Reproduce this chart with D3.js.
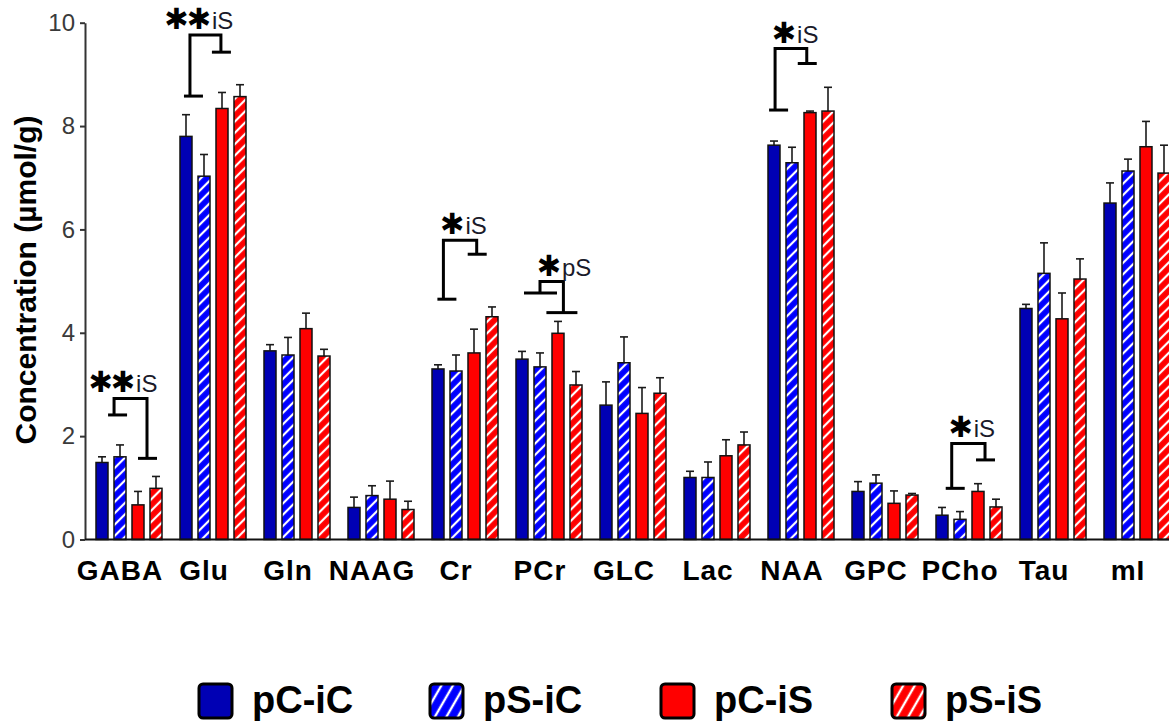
<!DOCTYPE html>
<html>
<head>
<meta charset="utf-8">
<script src="https://cdn.jsdelivr.net/npm/d3@7"></script>
<style>
  html, body { margin: 0; padding: 0; background: #fff; }
  svg { display: block; font-family: "Liberation Sans", Arial, sans-serif; }
</style>
</head>
<body>
<script>
// ---------- DATA ----------
const categories = ["GABA","Glu","Gln","NAAG","Cr","PCr","GLC","Lac","NAA","GPC","PCho","Tau","mI"];
const seriesNames = ["pC-iC","pS-iC","pC-iS","pS-iS"];
const yTicks = [0, 2, 4, 6, 8, 10];

const pCiC = [1.49, 7.80, 3.65, 0.62, 3.30, 3.49, 2.60, 1.20, 7.63, 0.93, 0.47, 4.47, 6.51];
const pSiC = [1.60, 7.03, 3.57, 0.85, 3.26, 3.34, 3.42, 1.20, 7.29, 1.09, 0.39, 5.15, 7.13];
const pCiS = [0.67, 8.34, 4.08, 0.78, 3.61, 3.99, 2.44, 1.62, 8.26, 0.70, 0.93, 4.27, 7.60];
const pSiS = [0.99, 8.57, 3.55, 0.58, 4.31, 2.99, 2.83, 1.83, 8.29, 0.86, 0.63, 5.04, 7.09];

const errPCiC = [0.11, 0.42, 0.12, 0.20, 0.08, 0.15, 0.45, 0.12, 0.08, 0.19, 0.15, 0.08, 0.39];
const errPSiC = [0.23, 0.42, 0.34, 0.19, 0.31, 0.27, 0.50, 0.30, 0.30, 0.16, 0.15, 0.59, 0.23];
const errPCiS = [0.26, 0.31, 0.30, 0.35, 0.46, 0.23, 0.50, 0.31, 0.03, 0.24, 0.15, 0.50, 0.49];
const errPSiS = [0.23, 0.23, 0.13, 0.16, 0.19, 0.26, 0.30, 0.25, 0.46, 0.03, 0.15, 0.39, 0.54];

// significance brackets: category, stars, effect label, legs (bar index units), low ends, top
const sigCategory = ["GABA", "Glu", "Cr", "PCr", "NAA", "PCho"];
const sigStars    = ["✱✱", "✱✱", "✱", "✱", "✱", "✱"];
const sigLabel    = ["iS", "iS", "iS", "pS", "iS", "iS"];
const sigLegLeft  = [0.67, 0.22, 0.30, 1.00, 0.06, 0.54];
const sigLegRight = [2.50, 1.94, 2.15, 2.30, 1.82, 2.39];
const sigLowLeft  = [2.41, 8.58, 4.65, 4.77, 8.31, 0.99];
const sigLowRight = [1.57, 9.43, 5.52, 4.39, 9.21, 1.54];
const sigTop      = [2.73, 9.76, 5.79, 4.99, 9.50, 1.86];

// ---------- BUILD ----------
const values = [pCiC, pSiC, pCiS, pSiS];
const errors = [errPCiC, errPSiC, errPCiS, errPSiS];
const fills = ["#0000b4", "url(#hatchBlue)", "#ff0000", "url(#hatchRed)"];
const legendFills = ["#0000b4", "url(#legHatchBlue)", "#ff0000", "url(#legHatchRed)"];

const W = 1169, H = 725;
const svg = d3.select("body").append("svg").attr("width", W).attr("height", H);
const defs = svg.append("defs");
function hatch(id, color, size, angle, sw) {
  const p = defs.append("pattern").attr("id", id)
    .attr("patternUnits", "userSpaceOnUse")
    .attr("width", size).attr("height", size)
    .attr("patternTransform", `rotate(${angle})`);
  p.append("rect").attr("width", size).attr("height", size).attr("fill", color);
  p.append("line").attr("x1", size / 2).attr("y1", -1).attr("x2", size / 2).attr("y2", size + 1)
    .attr("stroke", "#fff").attr("stroke-width", sw);
}
hatch("hatchBlue", "#0000ff", 8, 45, 2.2);
hatch("hatchRed", "#ff0000", 8, 45, 2.2);
hatch("legHatchBlue", "#0000ff", 10, 30, 2.4);
hatch("legHatchRed", "#ff0000", 10, 30, 2.4);

const axisX = 85;
const x0 = d3.scaleBand().domain(categories).range([axisX, axisX + 84 * categories.length]).padding(0);
const x1 = d3.scaleBand().domain(seriesNames).range([0, 66]).paddingInner(1 / 3).paddingOuter(0);
const groupOffset = 11;
const y = d3.scaleLinear().domain([0, 10]).range([539.5, 22.7]);

// bars
const barData = [];
categories.forEach((c, ci) => {
  seriesNames.forEach((s, si) => {
    barData.push({ c, s, si, v: values[si][ci], e: errors[si][ci] });
  });
});
const gBars = svg.append("g");
const gErr = gBars.append("g").attr("stroke", "#1a1a1a").attr("stroke-width", 1.6);
barData.forEach(d => {
  const cx = x0(d.c) + groupOffset + x1(d.s) + x1.bandwidth() / 2;
  gErr.append("line").attr("x1", cx).attr("x2", cx).attr("y1", y(d.v)).attr("y2", y(d.v + d.e));
  gErr.append("line").attr("x1", cx - 4).attr("x2", cx + 4).attr("y1", y(d.v + d.e)).attr("y2", y(d.v + d.e));
});
gBars.selectAll("rect.bar").data(barData).join("rect")
  .attr("class", "bar")
  .attr("x", d => x0(d.c) + groupOffset + x1(d.s))
  .attr("y", d => y(d.v))
  .attr("width", x1.bandwidth())
  .attr("height", d => y(0) - y(d.v))
  .attr("fill", d => fills[d.si])
  .attr("stroke", "#111")
  .attr("stroke-width", 1.5);

// y axis
const yAxis = svg.append("g").attr("transform", `translate(${axisX},0)`)
  .call(d3.axisLeft(y).tickValues(yTicks).tickSize(5).tickSizeOuter(0).tickPadding(5));
yAxis.select(".domain").attr("stroke", "#333").attr("stroke-width", 2);
yAxis.selectAll(".tick line").attr("stroke", "#333").attr("stroke-width", 2);
yAxis.selectAll(".tick text").attr("font-size", 24).attr("fill", "#3a3a3a")
  .attr("font-family", "'Liberation Sans', Arial, sans-serif");

// x baseline
svg.append("line").attr("x1", axisX).attr("x2", W).attr("y1", y(0)).attr("y2", y(0))
  .attr("stroke", "#111").attr("stroke-width", 2);

// x labels
svg.append("g").selectAll("text").data(categories).join("text")
  .attr("x", d => x0(d) + x0.bandwidth() / 2 - 7)
  .attr("y", 580)
  .attr("text-anchor", "middle")
  .attr("font-size", 28).attr("font-weight", "bold").attr("fill", "#000")
  .attr("letter-spacing", 1)
  .text(d => d);

// y title
svg.append("text")
  .attr("transform", "translate(36,280) rotate(-90)")
  .attr("text-anchor", "middle")
  .attr("font-size", 30).attr("font-weight", "bold").attr("fill", "#000")
  .text("Concentration (µmol/g)");

// significance brackets
const gSig = svg.append("g");
sigCategory.forEach((c, i) => {
  const base = x0(c) + groupOffset + x1.bandwidth() / 2;
  const step = x1.step();
  const xl = base + sigLegLeft[i] * step;
  const xr = base + sigLegRight[i] * step;
  const wide = sigLabel[i] === "pS";
  const path = d3.path();
  path.moveTo(xl, y(sigLowLeft[i]));
  path.lineTo(xl, y(sigTop[i]));
  path.lineTo(xr, y(sigTop[i]));
  path.lineTo(xr, y(sigLowRight[i]));
  gSig.append("path").attr("d", path.toString()).attr("fill", "none")
    .attr("stroke", "#000").attr("stroke-width", 3);
  const lc = wide ? [-16, 17] : [-6, 13];
  const rc = wide ? [-17, 14] : [-9, 10];
  gSig.append("line").attr("x1", xl + lc[0]).attr("x2", xl + lc[1])
    .attr("y1", y(sigLowLeft[i])).attr("y2", y(sigLowLeft[i]))
    .attr("stroke", "#000").attr("stroke-width", 3);
  gSig.append("line").attr("x1", xr + rc[0]).attr("x2", xr + rc[1])
    .attr("y1", y(sigLowRight[i])).attr("y2", y(sigLowRight[i]))
    .attr("stroke", "#000").attr("stroke-width", 3);
  const yt = y(sigTop[i]);
  gSig.append("text")
    .attr("x", xl + 19).attr("y", yt - 6)
    .attr("text-anchor", "end")
    .attr("font-family", "'DejaVu Sans', sans-serif")
    .attr("font-size", 29).attr("font-weight", "bold").attr("fill", "#000")
    .attr("letter-spacing", -2)
    .text(sigStars[i]);
  gSig.append("text")
    .attr("x", xl + 22).attr("y", yt - 6)
    .attr("text-anchor", "start")
    .attr("font-size", 24).attr("fill", "#1a1a2a")
    .text(sigLabel[i]);
});

// legend
const gLeg = svg.append("g");
seriesNames.forEach((s, i) => {
  const lx = 199 + i * 231;
  gLeg.append("rect").attr("x", lx).attr("y", 684).attr("width", 33).attr("height", 34)
    .attr("rx", 4).attr("fill", legendFills[i]).attr("stroke", "#000").attr("stroke-width", 3);
  gLeg.append("text").attr("x", lx + 53).attr("y", 713)
    .attr("font-size", 38).attr("font-weight", "bold").attr("fill", "#000")
    .text(s);
});
</script>
</body>
</html>
